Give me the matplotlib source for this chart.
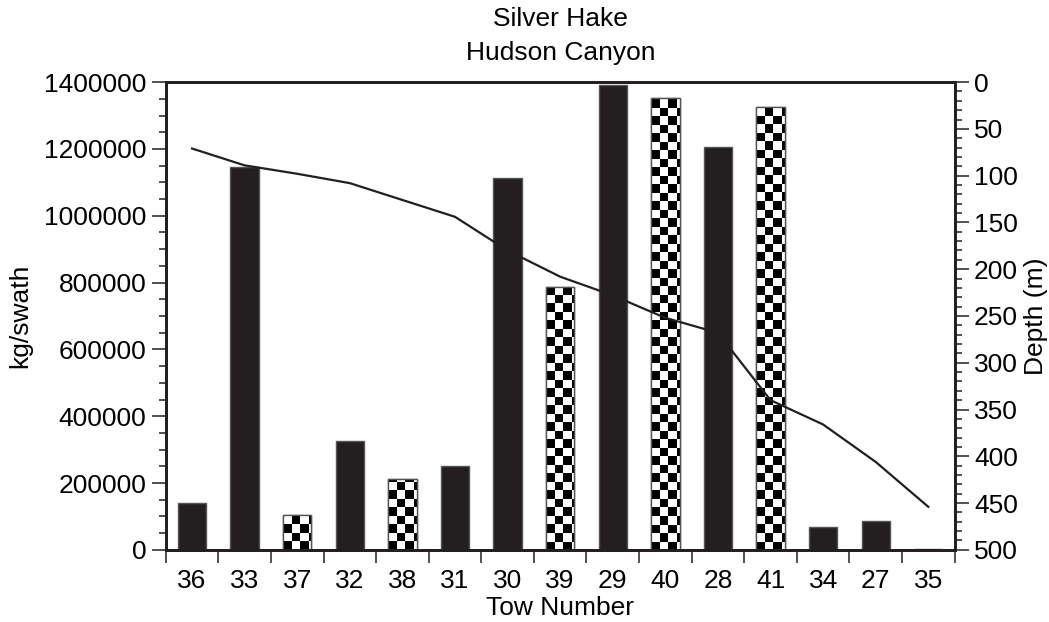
import numpy as np
import matplotlib
matplotlib.use("Agg")
import matplotlib.pyplot as plt
from matplotlib.ticker import MultipleLocator, FuncFormatter, FixedLocator

plt.rcParams['font.family'] = ['Liberation Sans', 'DejaVu Sans']

# Tows ordered by depth
tows = ["36", "33", "37", "32", "38", "31", "30", "39", "29", "40", "28", "41", "34", "27", "35"]
catch_kg = [140000, 1147000, 104000, 325000, 212000, 251000, 1112000, 786000,
            1390000, 1352000, 1205000, 1324000, 67000, 85000, 3000]
checkered = [False, False, True, False, True, False, False, True,
             False, True, False, True, False, False, False]
depth_m = [71, 89, 98, 108, 126, 144, 180, 208, 228, 252, 268, 340, 366, 406, 454]

FS = 19
DARK = "#231f20"

fig = plt.figure(figsize=(10.49, 6.22), dpi=100)
ax = fig.add_axes([0.158, 0.116, 0.752, 0.752])
ax2 = ax.twinx()

x = np.arange(len(tows))
bw = 0.54
ymax = 1400000

ax.set_xlim(-0.5, len(tows) - 0.5)
ax.set_ylim(0, ymax)

# checker square size (about 8.5 px) in data units
ax_w_px = 0.752 * 1049
ax_h_px = 0.752 * 622
sq_px = 8.5
sq_x = sq_px * len(tows) / ax_w_px
sq_y = sq_px * ymax / ax_h_px

for xi, v, chk in zip(x, catch_kg, checkered):
    if chk:
        bar = ax.bar(xi, v, width=bw, color="white", edgecolor="#555555",
                     linewidth=1.0, zorder=2)[0]
        x0 = xi - bw / 2
        ncol = int(np.ceil(bw / sq_x))
        nrow = int(np.ceil(v / sq_y))
        board = (np.add.outer(np.arange(nrow), np.arange(ncol)) % 2).astype(float)
        im = ax.imshow(board, cmap="gray", vmin=0, vmax=1, interpolation="nearest",
                       extent=(x0, x0 + ncol * sq_x, 0, nrow * sq_y),
                       aspect="auto", origin="lower", zorder=2.5)
        im.set_clip_path(bar)
        ax.bar(xi, v, width=bw, facecolor="none", edgecolor="#555555",
               linewidth=1.0, zorder=3)
    else:
        ax.bar(xi, v, width=bw, color=DARK, edgecolor="#555555",
               linewidth=1.0, zorder=2)

ax.set_xlim(-0.5, len(tows) - 0.5)
ax.set_ylim(0, ymax)
ax.set_aspect("auto")

# x ticks between categories, labels at centres
ax.xaxis.set_major_locator(FixedLocator(np.arange(len(tows) + 1) - 0.5))
ax.xaxis.set_major_formatter(FuncFormatter(lambda v, p: ""))
ax.set_xticks(x, tows, minor=True)
ax.tick_params(axis="x", which="major", length=9, width=1.2, direction="out", color="#333333")
ax.tick_params(axis="x", which="minor", length=0, labelsize=FS, pad=14)

ax.yaxis.set_major_locator(MultipleLocator(200000))
ax.yaxis.set_minor_locator(MultipleLocator(50000))
ax.yaxis.set_major_formatter(FuncFormatter(lambda v, p: f"{int(v)}"))
ax.tick_params(axis="y", which="major", length=10, width=1.2, labelsize=FS, pad=4, color="#333333")
ax.tick_params(axis="y", which="minor", length=5, width=1.2, color="#333333")

ax.set_xlabel("Tow Number", fontsize=FS, labelpad=2)
ax.set_ylabel("kg/swath", fontsize=FS, labelpad=8)

# depth profile on the right axis
ax2.plot(x, depth_m, color=DARK, linewidth=1.6, zorder=5)
ax2.set_ylim(500, 0)
ax2.yaxis.set_major_locator(MultipleLocator(50))
ax2.yaxis.set_minor_locator(MultipleLocator(10))
ax2.tick_params(axis="y", which="major", length=10, width=1.2, labelsize=FS, pad=4, color="#333333")
ax2.tick_params(axis="y", which="minor", length=5, width=1.2, color="#333333")
ax2.set_ylabel("Depth (m)", fontsize=FS, labelpad=4)

for a in (ax, ax2):
    for s in a.spines.values():
        s.set_linewidth(2)
        s.set_color(DARK)

fig.text(0.5343, 0.97, "Silver Hake", ha="center", va="center", fontsize=FS)
fig.text(0.5343, 0.915, "Hudson Canyon", ha="center", va="center", fontsize=FS)

fig.savefig("out.png", dpi=100)
